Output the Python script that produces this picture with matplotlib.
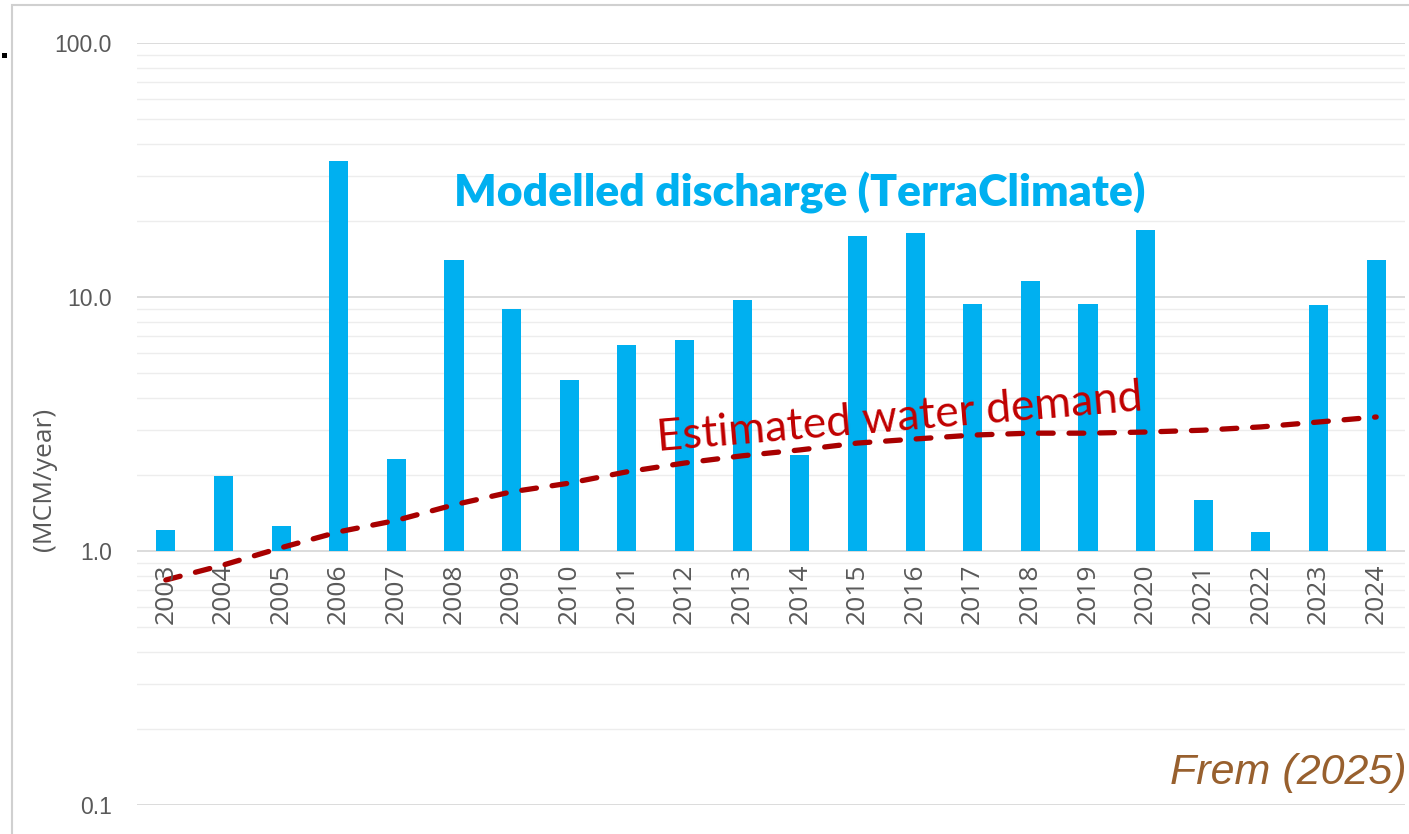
import matplotlib
matplotlib.use("Agg")
import matplotlib.pyplot as plt
from matplotlib.patches import Rectangle
from matplotlib.ticker import LogLocator, NullFormatter, FixedLocator

years = [str(y) for y in range(2003, 2025)]
discharge = [1.21, 1.97, 1.25, 34.3, 2.30, 14.0, 8.97, 4.71, 6.47, 6.77, 9.73,
             2.39, 17.4, 17.9, 9.38, 11.6, 9.38, 18.4, 1.59, 1.19, 9.3, 14.0]
demand = [0.769, 0.881, 1.03, 1.19, 1.32, 1.52, 1.71, 1.85, 2.05, 2.22, 2.37,
          2.50, 2.66, 2.76, 2.86, 2.91, 2.91, 2.94, 2.99, 3.08, 3.22, 3.37]
ytick_vals = [0.1, 1.0, 10.0, 100.0]
ytick_labels = ["0.1", "1.0", "10.0", "100.0"]

BAR = "#00B0F0"
RED = "#C00000"
LINE = "#A80000"
GRAY = "#595959"

fig = plt.figure(figsize=(14.09, 8.34), dpi=100)
ax = fig.add_axes([137/1409, 1-805/834, (1405-137)/1409, (805-43)/834])

x = list(range(len(years)))
base = 1.0
ax.bar(x, [v - base for v in discharge], bottom=base, width=0.33, color=BAR, zorder=3)
ax.plot(x, demand, color=LINE, lw=3.8, dashes=(2.8, 3.0), dash_capstyle="round", zorder=4)

ax.set_yscale("log")
ax.set_ylim(0.1, 100)
ax.set_xlim(-0.5, len(years) - 0.5)
ax.yaxis.set_major_locator(FixedLocator(ytick_vals))
ax.set_yticklabels(ytick_labels)
ax.yaxis.set_minor_locator(LogLocator(base=10, subs=range(2, 10)))
ax.yaxis.set_minor_formatter(NullFormatter())
ax.grid(True, which="major", axis="y", color="#D9D9D9", lw=1.3, zorder=0)
ax.grid(True, which="minor", axis="y", color="#EDEDED", lw=1.0, zorder=0)
ax.tick_params(axis="y", which="both", length=0, labelsize=16.5, labelcolor=GRAY, pad=18)
for lab in ax.get_yticklabels():
    lab.set_fontfamily("Liberation Sans")
ax.set_xticks([])
for s in ax.spines.values():
    s.set_visible(False)

for xi, yr in zip(x, years):
    ax.text(xi, 0.89, yr, rotation=90, ha="center", va="top", fontsize=19,
            color=GRAY, family="Open Sans", zorder=5)

fig.text(45/1409, 1-479/834, "(MCM/year)", rotation=90, ha="center", va="center",
         fontsize=19, color=GRAY, family="Open Sans")

ax.text(800/1409, 1-193/834, "Modelled discharge (TerraClimate)", transform=fig.transFigure,
        ha="center", va="center", fontsize=32, fontweight="heavy", color=BAR,
        family="Lato", zorder=6)
ax.text(900/1409, 1-418/834, "Estimated water demand", transform=fig.transFigure,
        ha="center", va="center", fontsize=32, color=RED, rotation=4.8,
        family="Lato", zorder=6)
fig.text(1407/1409, 1-773/834, "Frem (2025)", ha="right", va="center", fontsize=31,
         style="italic", color="#98602E", family="Liberation Sans")

fig.patches.append(Rectangle((12/1409, -0.01), 1.02, 1-5/834 + 0.01, transform=fig.transFigure,
                             fill=False, edgecolor="#D0D0D0", lw=1.5, figure=fig))
fig.patches.append(Rectangle((2/1409, 1-58/834), 5/1409, 5/834, transform=fig.transFigure,
                             facecolor="black", edgecolor="none", figure=fig))

fig.savefig("out.png", dpi=100)
